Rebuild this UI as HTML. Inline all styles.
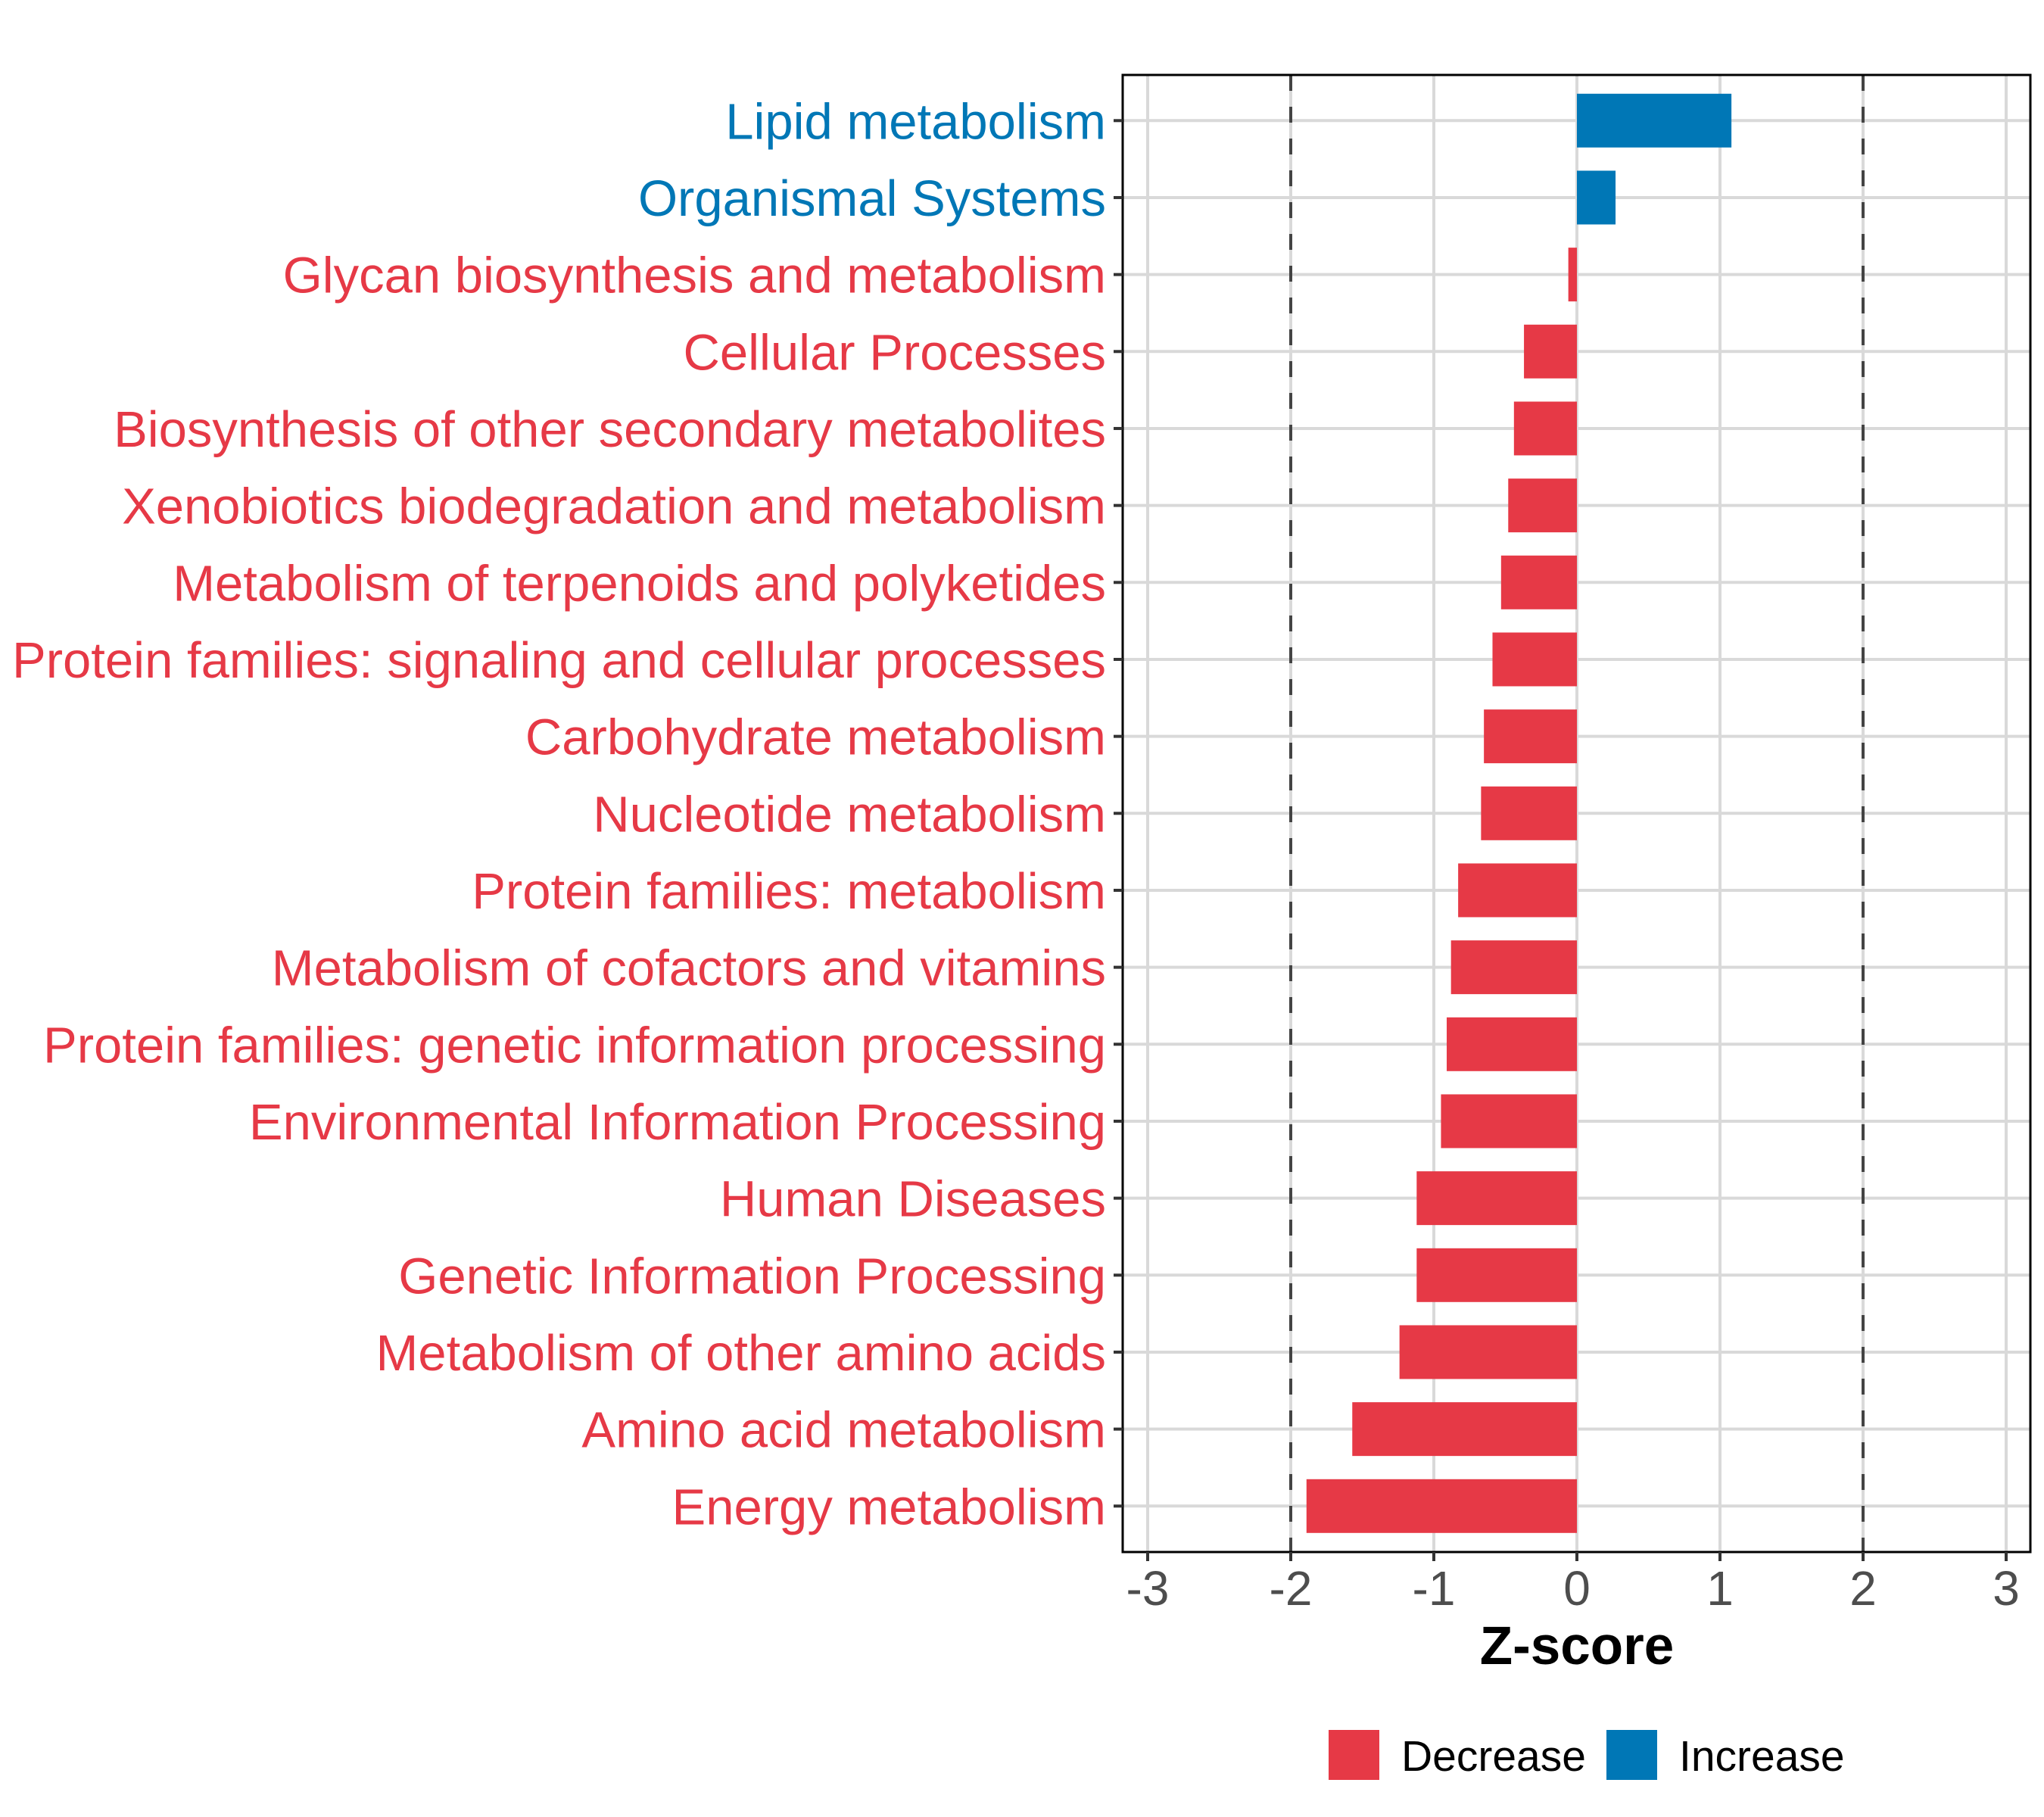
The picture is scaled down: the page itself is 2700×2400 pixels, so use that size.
<!DOCTYPE html>
<html><head><meta charset="utf-8"><style>
html,body{margin:0;padding:0;background:#fff;}
svg{display:block;font-family:"Liberation Sans",Arial,sans-serif;}
</style></head><body>
<svg id="chart" width="2700" height="2400" viewBox="0 0 2700 2400" xmlns="http://www.w3.org/2000/svg"></svg>
<script>
const categories = ["Lipid metabolism","Organismal Systems","Glycan biosynthesis and metabolism","Cellular Processes","Biosynthesis of other secondary metabolites","Xenobiotics biodegradation and metabolism","Metabolism of terpenoids and polyketides","Protein families: signaling and cellular processes","Carbohydrate metabolism","Nucleotide metabolism","Protein families: metabolism","Metabolism of cofactors and vitamins","Protein families: genetic information processing","Environmental Information Processing","Human Diseases","Genetic Information Processing","Metabolism of other amino acids","Amino acid metabolism","Energy metabolism"];
const zscores = [1.08,0.27,-0.06,-0.37,-0.44,-0.48,-0.53,-0.59,-0.65,-0.67,-0.83,-0.88,-0.91,-0.95,-1.12,-1.12,-1.24,-1.57,-1.89];
const xTicks = [-3,-2,-1,0,1,2,3];
const xTickLabels = ["-3","-2","-1","0","1","2","3"];
const thresholds = [-2,2];

const NS="http://www.w3.org/2000/svg";
const svg=document.getElementById('chart');
const P={l:1483,r:2682,t:99,b:2050};
const x0=2083, unit=189;
function xs(v){return x0+v*unit;}
const rowTop=159.3, rowStep=(1989.3-159.3)/18;
function ys(i){return rowTop+i*rowStep;}
const RED="#E63946", BLUE="#0077B6";
function mk(tag,attrs,parent){const e=document.createElementNS(NS,tag);for(const k in attrs)e.setAttribute(k,attrs[k]);(parent||svg).appendChild(e);return e;}

const grid=mk('g',{});


xTicks.forEach(t=>{const l=mk('line',{x1:xs(t),x2:xs(t),y1:P.t,y2:P.b,stroke:'#d9d9d9','stroke-width':4},grid);

});
categories.forEach((c,i)=>{const l=mk('line',{x1:P.l,x2:P.r,y1:ys(i),y2:ys(i),stroke:'#d9d9d9','stroke-width':4},grid);

});

thresholds.forEach(t=>{const l=mk('line',{x1:xs(t),x2:xs(t),y1:P.t,y2:P.b,stroke:'#444','stroke-width':4,'stroke-dasharray':'21 21'});

});

const bh=71;
zscores.forEach((v,i)=>{const a=Math.min(xs(0),xs(v)),w=Math.abs(xs(v)-xs(0));
const r=mk('rect',{x:a,y:ys(i)-bh/2,width:w,height:bh,fill:v>=0?BLUE:RED});

});

const fr=mk('rect',{x:P.l,y:P.t,width:P.r-P.l,height:P.b-P.t,fill:'none',stroke:'#000','stroke-width':3});



categories.forEach((c,i)=>{
const tk=mk('line',{x1:1471,x2:1483,y1:ys(i),y2:ys(i),stroke:'#333','stroke-width':4});


const t=mk('text',{x:1461,y:ys(i)+24,'text-anchor':'end','font-size':67,fill:zscores[i]>=0?BLUE:RED});
t.textContent=c;

});

xTicks.forEach((v,i)=>{
const tk=mk('line',{x1:xs(v),x2:xs(v),y1:P.b,y2:P.b+12,stroke:'#333','stroke-width':4});


const t=mk('text',{x:xs(v),y:2120,'text-anchor':'middle','font-size':64,fill:'#4d4d4d'});
t.textContent=xTickLabels[i];

});

const xt=mk('text',{x:xs(0),y:2198,'text-anchor':'middle','font-size':71,'font-weight':'bold',fill:'#000'});
xt.textContent='Z-score';



const lg=mk('g',{});


[["Decrease",RED,1755,1851],["Increase",BLUE,2122,2218]].forEach(([n,c,bx,tx])=>{
const r=mk('rect',{x:bx,y:2285,width:67,height:66,fill:c},lg);


const t=mk('text',{x:tx,y:2339,'font-size':57,fill:'#000'},lg);
t.textContent=n;

});
</script>
</body></html>
